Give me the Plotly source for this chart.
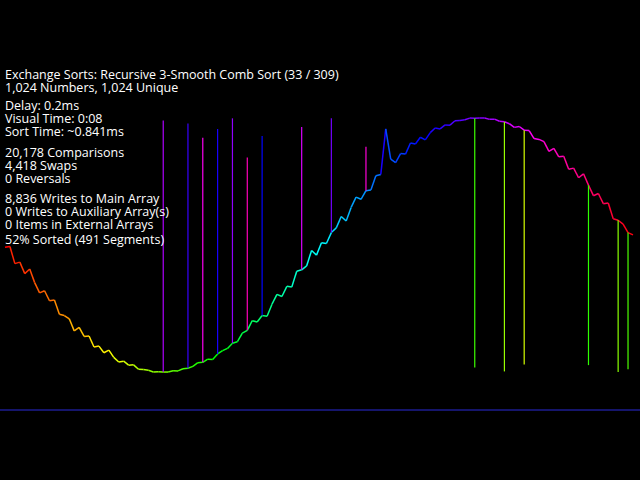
import math
import colorsys
import plotly.graph_objects as go

values = [3,2,24,22,37,31,49,63,60,74,73,94,96,101,121,115,
131,130,152,150,165,159,177,191,188,202,201,222,224,229,249,243,
800,258,280,278,293,720,305,319,860,330,329,700,352,357,780,371,
387,900,408,406,680,415,433,447,444,458,457,478,830,485,505,499,
515,514,760,534,549,543,561,575,572,880,585,606,608,700,633,627,
643,642,664,662,677,671,689,703,700,714,713,734,736,741,761,300,
771,770,792,790,805,240,817,831,828,200,841,862,864,869,889,883,
899,898,920,918,933,927,310,959,956,970,969,990,250,997,290,1011]
n_values = 1024

text_lines = [
    ("Exchange Sorts: Recursive 3-Smooth Comb Sort (33 / 309)", 74),
    ("1,024 Numbers, 1,024 Unique", 87),
    ("Delay: 0.2ms", 105),
    ("Visual Time: 0:08", 118),
    ("Sort Time: ~0.841ms", 131),
    ("20,178 Comparisons", 152),
    ("4,418 Swaps", 165),
    ("0 Reversals", 178),
    ("8,836 Writes to Main Array", 198),
    ("0 Writes to Auxiliary Array(s)", 211),
    ("0 Items in External Arrays", 224),
    ("52% Sorted (491 Segments)", 239),
]

def height(v):
    return -math.sin(2 * math.pi * v / n_values)

def color(v):
    r, g, b = colorsys.hsv_to_rgb((v / n_values) % 1.0, 1, 1)
    return f"rgb({int(r*255)},{int(g*255)},{int(b*255)})"

N = len(values)
step = n_values / N
curve = list(values)
spikes = []
for i, v in enumerate(values):
    if abs(v - i * step) > 100:
        curve[i] = i * step
        spikes.append(i)

fig = go.Figure()
for i in range(N - 1):
    fig.add_trace(go.Scatter(
        x=[i, i + 1], y=[height(curve[i]), height(curve[i + 1])],
        mode="lines", line=dict(color=color(curve[i + 1]), width=1.5),
        hoverinfo="skip", showlegend=False))
for i in spikes:
    fig.add_trace(go.Scatter(
        x=[i, i], y=[height(curve[i]), height(values[i])],
        mode="lines", line=dict(color=color(values[i]), width=1.2),
        hoverinfo="skip", showlegend=False))

fig.add_shape(type="line", xref="paper", x0=0, x1=1, yref="y",
              y0=-1.299, y1=-1.299, line=dict(color="#1c1c90", width=1.5))

for t, py in text_lines:
    fig.add_annotation(text=t, xref="paper", yref="paper", x=3/640,
                       y=1 - py / 480, xanchor="left", yanchor="middle",
                       showarrow=False, font=dict(color="white", size=12.5, family="Open Sans"))

fig.update_layout(
    width=640, height=480, margin=dict(l=0, r=0, t=0, b=0),
    paper_bgcolor="black", plot_bgcolor="black",
    xaxis=dict(visible=False, range=[-1.01, 128.42]),
    yaxis=dict(visible=False, range=[-1.850, 1.929]),
)
fig.write_html("out.html", config={"displayModeBar": False},
               post_script="document.body.style.margin='0';document.body.style.background='black';")
